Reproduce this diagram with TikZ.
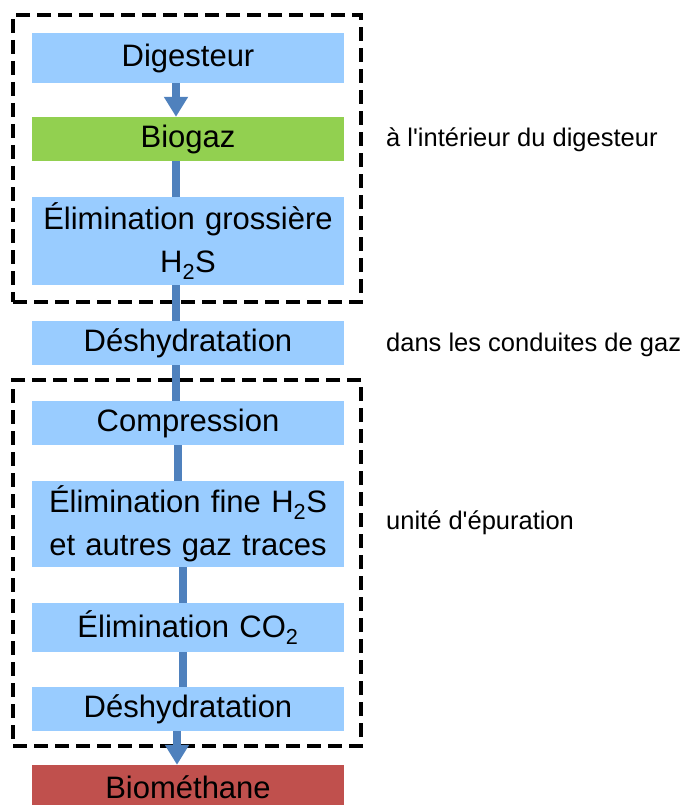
\documentclass[tikz,border=0pt]{standalone}
\usepackage{fontspec}
\setmainfont{Liberation Sans}
\usetikzlibrary{arrows.meta}
\definecolor{stepblue}{HTML}{99CCFF}
\definecolor{stepgreen}{HTML}{92D050}
\definecolor{stepred}{HTML}{C0504D}
\definecolor{flowblue}{HTML}{4F81BD}

\begin{document}
\begin{tikzpicture}[x=1pt,y=-1pt,
  stage/.style={rectangle, inner sep=0pt, minimum width=312pt, text width=312pt,
    align=center, fill=stepblue, text=black, font=\fontsize{31}{43}\selectfont},
  zone/.style={rectangle, draw=black, line width=3.2pt, dash pattern=on 14pt off 7pt, inner sep=0pt},
  flow/.style={draw=flowblue, line width=8pt},
  flowhead/.style={flow, -{Triangle[length=20pt,width=23pt]}},
  note/.style={anchor=west, inner sep=0pt, text=black, font=\fontsize{25.5}{30}\selectfont}
]
\useasboundingbox (0,0) rectangle (691,805);

% grouping frames
\node[zone, minimum width=348pt, minimum height=287pt] (z1) at (187,158.5) {};
\node[zone, minimum width=348pt, minimum height=366pt] (z2) at (187,563) {};

% process stages
\node[stage, minimum height=50pt] (dig) at (188,58) {Digesteur};
\node[stage, minimum height=44pt, fill=stepgreen] (bio) at (188,139) {Biogaz};
\node[stage, minimum height=88pt] (eg) at (188,241) {Élimination grossière\\H\textsubscript{2}S};
\node[stage, minimum height=44pt] (dh1) at (188,343) {Déshydratation};
\node[stage, minimum height=44pt] (comp) at (188,423) {Compression};
\node[stage, minimum height=86pt] (ef) at (188,524) {Élimination fine H\textsubscript{2}S\\et autres gaz traces};
\node[stage, minimum height=49pt] (co2) at (188,627.5) {Élimination CO\textsubscript{2}};
\node[stage, minimum height=44pt] (dh2) at (188,709) {Déshydratation};
\node[stage, minimum height=45pt, fill=stepred] (bm) at (188,787.5) {Biométhane};

% gas flow
\draw[flowhead] ([xshift=-12pt]dig.south) -- ([xshift=-12pt]bio.north);
\draw[flow] ([xshift=-12pt]bio.south) -- ([xshift=-12pt]eg.north);
\draw[flow] ([xshift=-12pt]eg.south) -- ([xshift=-12pt]dh1.north);
\draw[flow] ([xshift=-12pt]dh1.south) -- ([xshift=-12pt]comp.north);
\draw[flow] ([xshift=-10pt]comp.south) -- ([xshift=-10pt]ef.north);
\draw[flow] ([xshift=-5pt]ef.south) -- ([xshift=-5pt]co2.north);
\draw[flow] ([xshift=-5pt]co2.south) -- ([xshift=-5pt]dh2.north);
\draw[flowhead] ([xshift=-11pt]dh2.south) -- ([xshift=-11pt]bm.north);

% locations
\node[note] (n1) at (386,140) {à l\textquotesingle intérieur du digesteur};
\node[note] (n2) at (386,345) {dans les conduites de gaz};
\node[note] (n3) at (386,523) {unité d\textquotesingle épuration};
\end{tikzpicture}
\end{document}
